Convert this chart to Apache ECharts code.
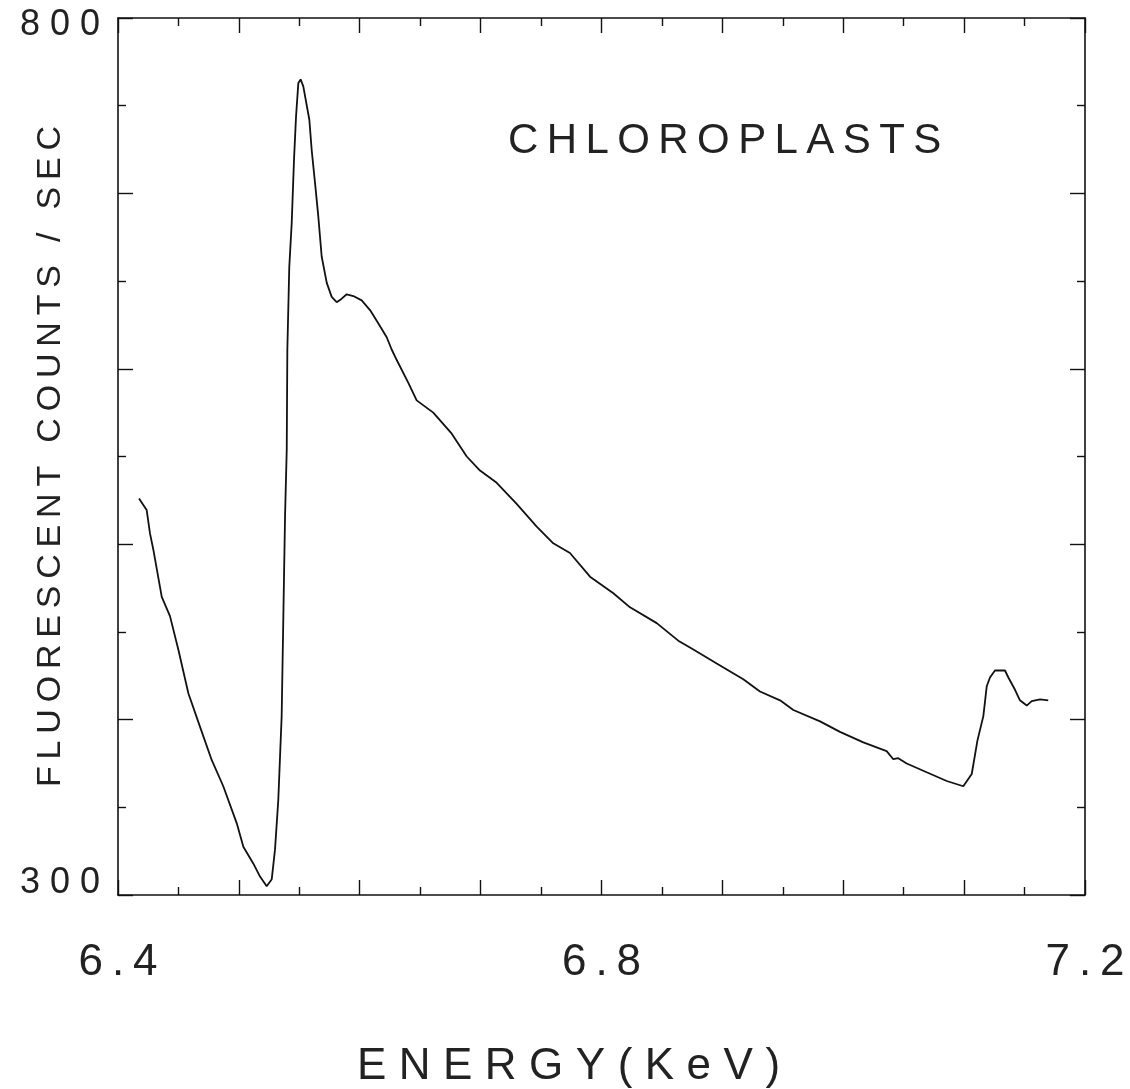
<!DOCTYPE html>
<html>
<head>
<meta charset="utf-8">
<script src="https://cdn.jsdelivr.net/npm/echarts@6/dist/echarts.min.js"></script>
<style>
html,body{margin:0;padding:0;background:#fff;}
#chart{width:1130px;height:1089px;}
</style>
</head>
<body>
<div id="chart"></div>
<script>
// ---- data ----
var energy = [6.4174, 6.4237, 6.4265, 6.4292, 6.4362, 6.4430, 6.4499, 6.4582, 6.4678, 6.4775,
  6.4871, 6.4982, 6.5037, 6.5119, 6.5175, 6.5230, 6.5272, 6.5299, 6.5326, 6.5354,
  6.5368, 6.5382, 6.5396, 6.5401, 6.5417, 6.5437, 6.5456, 6.5473, 6.5492, 6.5511,
  6.5533, 6.5583, 6.5602, 6.5630, 6.5657, 6.5685, 6.5727, 6.5768, 6.5809, 6.5851,
  6.5892, 6.5947, 6.6016, 6.6085, 6.6153, 6.6223, 6.6264, 6.6306, 6.6402, 6.6471,
  6.6608, 6.6761, 6.6885, 6.6995, 6.7133, 6.7298, 6.7464, 6.7601, 6.7739, 6.7905,
  6.8098, 6.8236, 6.8457, 6.8635, 6.8760, 6.8953, 6.9173, 6.9311, 6.9477, 6.9587,
  6.9808, 6.9973, 7.0166, 7.0359, 7.0414, 7.0455, 7.0525, 7.0690, 7.0856, 7.0993,
  7.1063, 7.1110, 7.1159, 7.1187, 7.1214, 7.1255, 7.1338, 7.1366, 7.1421, 7.1462,
  7.1518, 7.1559, 7.1628, 7.1696];
var counts = [526, 519.5, 506, 497, 470, 459, 440, 415, 396, 377,
  362, 341, 327.5, 318, 310.5, 305, 309, 326, 354, 402,
  459, 516, 554, 611, 658, 683, 719, 744, 763, 765,
  761, 742, 725, 706, 687, 664, 649, 641, 638, 640,
  642.5, 641.5, 639, 633.5, 626, 618, 611, 605, 592, 582,
  575, 563, 550, 542, 535, 523, 510, 500.5, 495, 481.5,
  472, 464, 455, 445, 440, 432, 423, 416, 411, 405.5,
  399, 393, 387, 382, 377.4, 378, 375, 370, 365, 362,
  369, 388, 402, 419, 424, 428, 428, 424, 417, 411,
  408, 410.5, 411.5, 411];
var xTickLabels = ['6.4', '6.8', '7.2'];
var yTickLabels = ['300', '800'];
var xTitle = 'ENERGY(KeV)';
var yTitle = 'FLUORESCENT COUNTS / SEC';
var plotTitle = 'CHLOROPLASTS';

// ---- helpers ----
function spaced(s, sep) { return s.split('').join(sep); }
var THIN = '\u2009';
var HAIR = '\u200A';
var FONT = '"Liberation Sans", "DejaVu Sans", sans-serif';

var points = energy.map(function (e, i) { return [e, counts[i]]; });

function labelIn(list, v) {
  for (var i = 0; i < list.length; i++) {
    if (Math.abs(parseFloat(list[i]) - v) < 1e-6) return list[i];
  }
  return null;
}

var lineStyle = { color: '#111', width: 1.6 };

function xAxisCfg(pos, showLabels) {
  return {
    type: 'value', position: pos, min: 6.4, max: 7.2, interval: 0.1,
    axisLine: { show: true, onZero: false, lineStyle: lineStyle },
    axisTick: { show: true, inside: true, length: 15, lineStyle: { color: '#111', width: 1.4 } },
    minorTick: { show: true, splitNumber: 2, length: 8, lineStyle: { color: '#111', width: 1.4 } },
    splitLine: { show: false }, minorSplitLine: { show: false },
    axisLabel: showLabels ? {
      show: true, margin: 46, fontSize: 44, fontFamily: FONT, color: '#222',
      showMinLabel: true, showMaxLabel: true,
      formatter: function (v) { var l = labelIn(xTickLabels, v); return l ? spaced(l, THIN) : ''; }
    } : { show: false }
  };
}
function yAxisCfg(pos, showLabels) {
  return {
    type: 'value', position: pos, min: 300, max: 800, interval: 100,
    axisLine: { show: true, onZero: false, lineStyle: lineStyle },
    axisTick: { show: true, inside: true, length: 15, lineStyle: { color: '#111', width: 1.4 } },
    minorTick: { show: true, splitNumber: 2, length: 8, lineStyle: { color: '#111', width: 1.4 } },
    splitLine: { show: false }, minorSplitLine: { show: false },
    axisLabel: showLabels ? {
      show: true, margin: 18, fontSize: 36, fontFamily: FONT, color: '#222',
      showMinLabel: true, showMaxLabel: true,
      formatter: function (v) {
        var l = labelIn(yTickLabels, v);
        if (!l) return '';
        return (v > 550 ? '{top|' : '{bot|') + spaced(l, ' ') + '}';
      },
      rich: {
        top: { fontSize: 36, fontFamily: FONT, color: '#222', padding: [14, 0, 0, 0] },
        bot: { fontSize: 36, fontFamily: FONT, color: '#222', padding: [0, 0, 24, 0] }
      }
    } : { show: false }
  };
}

var xMain = xAxisCfg('bottom', true);
xMain.name = spaced(xTitle, THIN + HAIR);
xMain.nameLocation = 'middle';
xMain.nameGap = 150;
xMain.nameMoveOverlap = false;
xMain.nameTextStyle = { fontSize: 44, fontFamily: FONT, color: '#222', padding: [0, 66, 0, 0] };

var yMain = yAxisCfg('left', true);
yMain.name = spaced(yTitle, THIN);
yMain.nameLocation = 'middle';
yMain.nameGap = 50;
yMain.nameRotate = 90;
yMain.nameMoveOverlap = false;
yMain.nameTextStyle = { fontSize: 34, fontFamily: FONT, color: '#222' };

var chart = echarts.init(document.getElementById('chart'), null, { renderer: 'canvas' });
chart.setOption({
  backgroundColor: '#fff',
  animation: false,
  title: {
    text: spaced(plotTitle, THIN),
    left: 503, top: 115,
    textStyle: { fontSize: 42, fontWeight: 'normal', fontFamily: FONT, color: '#222' }
  },
  grid: { left: 118, right: 45, top: 18, bottom: 194, outerBoundsMode: 'none', containLabel: false },
  xAxis: [xMain, xAxisCfg('top', false)],
  yAxis: [yMain, yAxisCfg('right', false)],
  series: [{
    type: 'line', xAxisIndex: 0, yAxisIndex: 0,
    data: points, showSymbol: false, symbol: 'none',
    lineStyle: { color: '#111', width: 1.8 }, smooth: false
  }]
});
</script>
</body>
</html>
